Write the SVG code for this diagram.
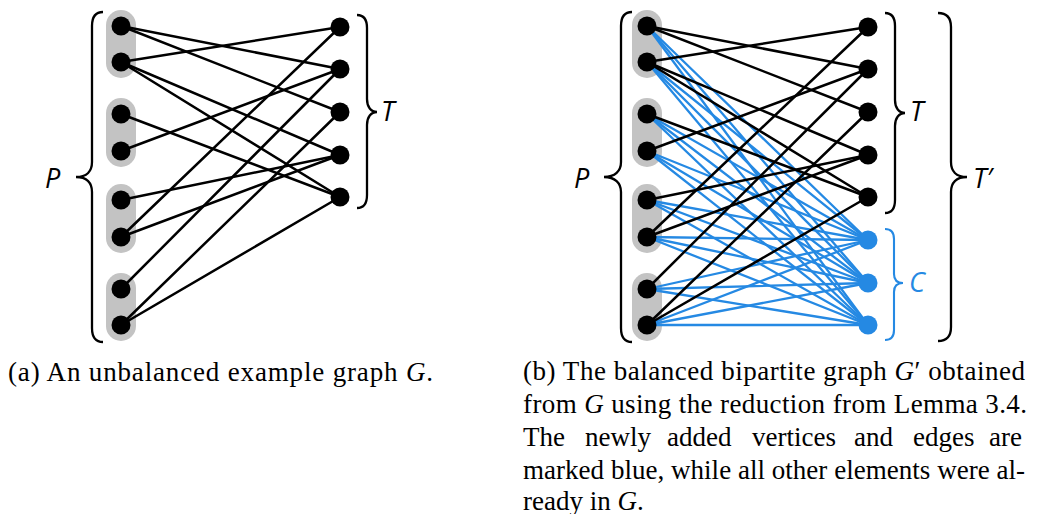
<svg xmlns="http://www.w3.org/2000/svg" width="1059" height="514" viewBox="0 0 1059 514">
<style>
.pill{fill:#c3c3c3}
.e{stroke:#000;stroke-width:2.5;fill:none;stroke-linecap:round}
.b{stroke:#2589e3;stroke-width:2.3;fill:none;stroke-linecap:round}
.n{fill:#000}
.nb{fill:#2589e3}
.br{stroke:#000;stroke-width:2.3;fill:none}
.brb{stroke:#2589e3;stroke-width:2.1;fill:none}
.lab{font-family:"Open Sans","Noto Sans",sans-serif;font-style:italic;font-size:27px;fill:#000}
.cap{font-family:"Liberation Serif",serif;font-size:27px;fill:#000}
.it{font-style:italic}
</style>
<rect width="1059" height="514" fill="#fff"/>

<!-- ===== Graph (a) ===== -->
<g id="a-groups">
<rect class="pill" x="106" y="10" width="30" height="68" rx="15"/>
<rect class="pill" x="106" y="98" width="30" height="69" rx="15"/>
<rect class="pill" x="106" y="184" width="30" height="69" rx="15"/>
<rect class="pill" x="106" y="273" width="30" height="68" rx="15"/>
</g>
<g id="a-edges">
<line class="e" x1="121" y1="26" x2="340" y2="69"/>
<line class="e" x1="121" y1="26" x2="340" y2="112"/>
<line class="e" x1="121" y1="62" x2="340" y2="27"/>
<line class="e" x1="121" y1="62" x2="340" y2="155"/>
<line class="e" x1="121" y1="62" x2="340" y2="197"/>
<line class="e" x1="121" y1="114" x2="340" y2="197"/>
<line class="e" x1="121" y1="151" x2="340" y2="69"/>
<line class="e" x1="121" y1="200" x2="340" y2="155"/>
<line class="e" x1="121" y1="237" x2="340" y2="27"/>
<line class="e" x1="121" y1="237" x2="340" y2="155"/>
<line class="e" x1="121" y1="289" x2="340" y2="69"/>
<line class="e" x1="121" y1="325" x2="340" y2="112"/>
<line class="e" x1="121" y1="325" x2="340" y2="197"/>
</g>
<g id="a-p1"><circle class="n" cx="121" cy="26" r="9.5"/></g>
<g id="a-p2"><circle class="n" cx="121" cy="62" r="9.5"/></g>
<g id="a-p3"><circle class="n" cx="121" cy="114" r="9.5"/></g>
<g id="a-p4"><circle class="n" cx="121" cy="151" r="9.5"/></g>
<g id="a-p5"><circle class="n" cx="121" cy="200" r="9.5"/></g>
<g id="a-p6"><circle class="n" cx="121" cy="237" r="9.5"/></g>
<g id="a-p7"><circle class="n" cx="121" cy="289" r="9.5"/></g>
<g id="a-p8"><circle class="n" cx="121" cy="325" r="9.5"/></g>
<g id="a-t1"><circle class="n" cx="340" cy="27" r="9.5"/></g>
<g id="a-t2"><circle class="n" cx="340" cy="69" r="9.5"/></g>
<g id="a-t3"><circle class="n" cx="340" cy="112" r="9.5"/></g>
<g id="a-t4"><circle class="n" cx="340" cy="155" r="9.5"/></g>
<g id="a-t5"><circle class="n" cx="340" cy="197" r="9.5"/></g>
<g id="a-braces">
<path class="br" d="M103,12 C96,12 92,16 92,26 L92,162 C92,171 87,177 76,177 C87,177 92,183 92,192 L92,328 C92,338 96,342 103,342"/>
<path class="br" d="M357,15 C364,15 367,19 367,28 L367,99 C367,107 371,112 377,112 C371,112 367,117 367,125 L367,195 C367,204 364,208 357,208"/>
<text class="lab" x="45" y="188">P</text>
<text class="lab" x="381" y="121">T</text>
</g>
<text class="cap" x="8" y="381" textLength="425" lengthAdjust="spacing">(a) An unbalanced example graph <tspan class="it">G</tspan>.</text>

<!-- ===== Graph (b) ===== -->
<g id="b-groups">
<rect class="pill" x="632" y="10" width="30" height="68" rx="15"/>
<rect class="pill" x="632" y="98" width="30" height="69" rx="15"/>
<rect class="pill" x="632" y="184" width="30" height="69" rx="15"/>
<rect class="pill" x="632" y="273" width="30" height="68" rx="15"/>
</g>
<g id="b-edges-new">
<line class="b" x1="647" y1="26" x2="868" y2="240"/>
<line class="b" x1="647" y1="26" x2="868" y2="283"/>
<line class="b" x1="647" y1="26" x2="868" y2="325"/>
<line class="b" x1="647" y1="62" x2="868" y2="240"/>
<line class="b" x1="647" y1="62" x2="868" y2="283"/>
<line class="b" x1="647" y1="62" x2="868" y2="325"/>
<line class="b" x1="647" y1="114" x2="868" y2="240"/>
<line class="b" x1="647" y1="114" x2="868" y2="283"/>
<line class="b" x1="647" y1="114" x2="868" y2="325"/>
<line class="b" x1="647" y1="151" x2="868" y2="240"/>
<line class="b" x1="647" y1="151" x2="868" y2="283"/>
<line class="b" x1="647" y1="151" x2="868" y2="325"/>
<line class="b" x1="647" y1="200" x2="868" y2="240"/>
<line class="b" x1="647" y1="200" x2="868" y2="283"/>
<line class="b" x1="647" y1="200" x2="868" y2="325"/>
<line class="b" x1="647" y1="237" x2="868" y2="240"/>
<line class="b" x1="647" y1="237" x2="868" y2="283"/>
<line class="b" x1="647" y1="237" x2="868" y2="325"/>
<line class="b" x1="647" y1="289" x2="868" y2="240"/>
<line class="b" x1="647" y1="289" x2="868" y2="283"/>
<line class="b" x1="647" y1="289" x2="868" y2="325"/>
<line class="b" x1="647" y1="325" x2="868" y2="240"/>
<line class="b" x1="647" y1="325" x2="868" y2="283"/>
<line class="b" x1="647" y1="325" x2="868" y2="325"/>
</g>
<g id="b-edges">
<line class="e" x1="647" y1="26" x2="868" y2="69"/>
<line class="e" x1="647" y1="26" x2="868" y2="112"/>
<line class="e" x1="647" y1="62" x2="868" y2="27"/>
<line class="e" x1="647" y1="62" x2="868" y2="155"/>
<line class="e" x1="647" y1="62" x2="868" y2="197"/>
<line class="e" x1="647" y1="114" x2="868" y2="197"/>
<line class="e" x1="647" y1="151" x2="868" y2="69"/>
<line class="e" x1="647" y1="200" x2="868" y2="155"/>
<line class="e" x1="647" y1="237" x2="868" y2="27"/>
<line class="e" x1="647" y1="237" x2="868" y2="155"/>
<line class="e" x1="647" y1="289" x2="868" y2="69"/>
<line class="e" x1="647" y1="325" x2="868" y2="112"/>
<line class="e" x1="647" y1="325" x2="868" y2="197"/>
</g>
<g id="b-p1"><circle class="n" cx="647" cy="26" r="9.5"/></g>
<g id="b-p2"><circle class="n" cx="647" cy="62" r="9.5"/></g>
<g id="b-p3"><circle class="n" cx="647" cy="114" r="9.5"/></g>
<g id="b-p4"><circle class="n" cx="647" cy="151" r="9.5"/></g>
<g id="b-p5"><circle class="n" cx="647" cy="200" r="9.5"/></g>
<g id="b-p6"><circle class="n" cx="647" cy="237" r="9.5"/></g>
<g id="b-p7"><circle class="n" cx="647" cy="289" r="9.5"/></g>
<g id="b-p8"><circle class="n" cx="647" cy="325" r="9.5"/></g>
<g id="b-t1"><circle class="n" cx="868" cy="27" r="9.5"/></g>
<g id="b-t2"><circle class="n" cx="868" cy="69" r="9.5"/></g>
<g id="b-t3"><circle class="n" cx="868" cy="112" r="9.5"/></g>
<g id="b-t4"><circle class="n" cx="868" cy="155" r="9.5"/></g>
<g id="b-t5"><circle class="n" cx="868" cy="197" r="9.5"/></g>
<g id="b-c1"><circle class="nb" cx="868" cy="240" r="9.5"/></g>
<g id="b-c2"><circle class="nb" cx="868" cy="283" r="9.5"/></g>
<g id="b-c3"><circle class="nb" cx="868" cy="325" r="9.5"/></g>
<g id="b-braces">
<path class="br" d="M632,12 C625,12 621,16 621,26 L621,162 C621,171 615,177 604,177 C615,177 621,183 621,192 L621,328 C621,338 625,342 632,342"/>
<path class="br" d="M885,13 C892,13 895,17 895,26 L895,100 C895,108 899,113 905,113 C899,113 895,118 895,126 L895,200 C895,209 892,213 885,213"/>
<path class="br" d="M938,13 C946,13 951,17 951,27 L951,162 C951,171 956,177 967,177 C956,177 951,183 951,192 L951,327 C951,337 946,341 938,341"/>
<path class="brb" d="M885,229 C891,229 894,232 894,239 L894,274 C894,280 897,283 903,283 C897,283 894,286 894,292 L894,330 C894,337 891,340 885,340"/>
<text class="lab" x="574" y="188">P</text>
<text class="lab" x="910" y="121">T</text>
<text class="lab" x="973" y="188">T′</text>
<text class="lab" x="909" y="292" style="fill:#2589e3">C</text>
</g>
<g id="b-caption" class="cap">
<text x="523" y="380" textLength="502" lengthAdjust="spacing">(b) The balanced bipartite graph <tspan class="it">G</tspan>′ obtained</text>
<text x="523" y="413" textLength="504" lengthAdjust="spacing">from <tspan class="it">G</tspan> using the reduction from Lemma 3.4.</text>
<text y="446"><tspan x="523">The</tspan><tspan x="585">newly</tspan><tspan x="667">added</tspan><tspan x="752">vertices</tspan><tspan x="854">and</tspan><tspan x="913">edges</tspan><tspan x="989">are</tspan></text>
<text x="523" y="479" textLength="502" lengthAdjust="spacing">marked blue, while all other elements were al-</text>
<text x="523" y="510">ready in <tspan class="it">G</tspan>.</text>
</g>
</svg>
